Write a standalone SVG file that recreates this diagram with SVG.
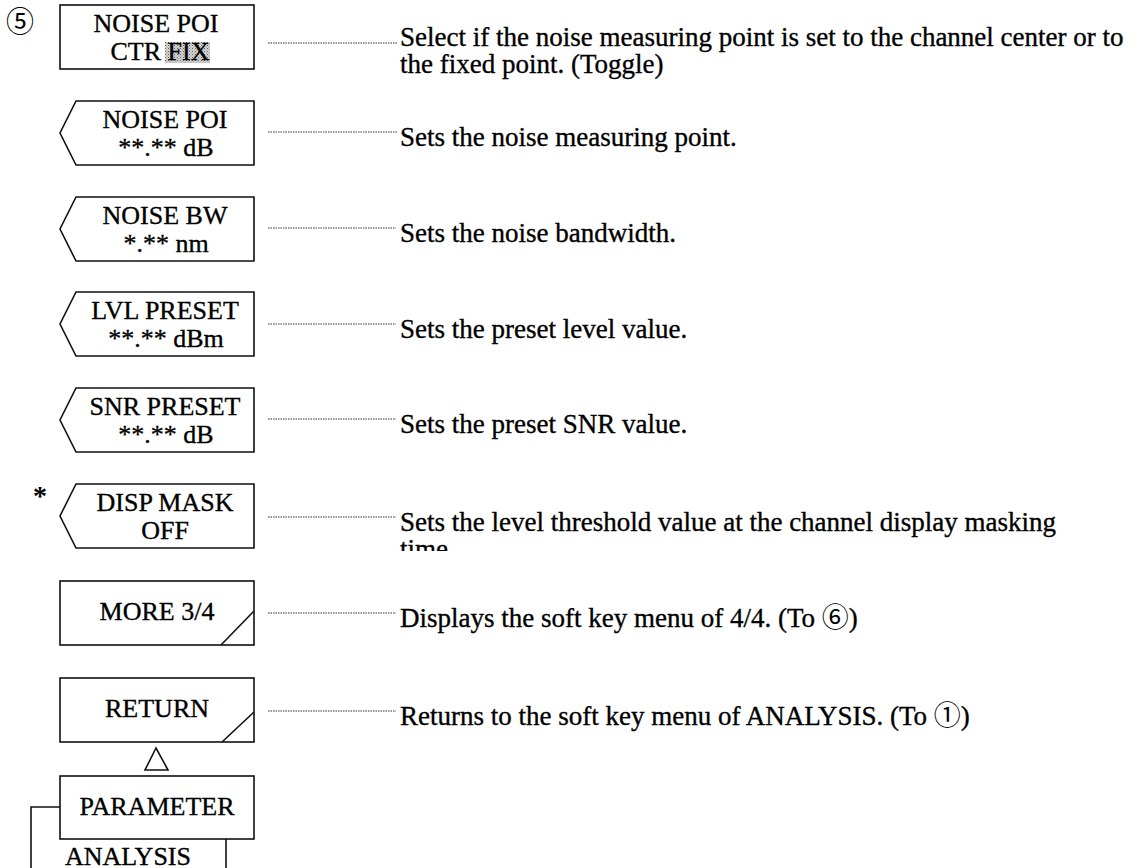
<svg xmlns="http://www.w3.org/2000/svg" width="1137" height="868" viewBox="0 0 1137 868">
<defs>
<pattern id="dots" width="3" height="3" patternUnits="userSpaceOnUse">
<rect width="3" height="3" fill="#d4d4d4"/>
<rect width="1" height="1" fill="#666"/>
<rect x="1.5" y="1.5" width="1" height="1" fill="#888"/>
</pattern>
<clipPath id="cut"><rect x="380" y="500" width="757" height="51"/></clipPath>
</defs>
<style>
.box{fill:#fff;stroke:#111;stroke-width:1.6}
.k{font-family:"Liberation Serif","Times New Roman",serif;font-size:26px;fill:#000;stroke:#000;stroke-width:0.35;text-anchor:middle}
.d{font-family:"Liberation Serif","Times New Roman",serif;font-size:27px;fill:#000;stroke:#000;stroke-width:0.35}
.c{font-family:"Noto Sans CJK JP","DejaVu Sans",sans-serif;font-size:27px;stroke-width:0}
.lead{stroke:#333;stroke-width:1.2;stroke-dasharray:1.5 1;fill:none}
.ln{stroke:#111;stroke-width:1.6;fill:none}
</style>
<rect width="1137" height="868" fill="#fff"/>
<text x="20" y="32" font-family="Noto Sans CJK JP, DejaVu Sans, sans-serif" font-size="28" text-anchor="middle">⑤</text>
<text x="40" y="505" font-family="Liberation Serif, serif" font-size="28" font-weight="bold" text-anchor="middle">*</text>

<g id="connectors">
<line class="lead" x1="268" y1="43" x2="397" y2="43"/>
<line class="lead" x1="268" y1="132" x2="397" y2="132"/>
<line class="lead" x1="268" y1="228" x2="396" y2="228"/>
<line class="lead" x1="268" y1="324" x2="396" y2="324"/>
<line class="lead" x1="268" y1="419" x2="396" y2="419"/>
<line class="lead" x1="268" y1="517" x2="396" y2="517"/>
<line class="lead" x1="268" y1="613" x2="396" y2="613"/>
<line class="lead" x1="268" y1="711" x2="396" y2="711"/>
<polygon points="156,748 145,770 168,770" fill="#fff" stroke="#111" stroke-width="1.6"/>
</g>

<g id="node-noise-poi-ctr">
<rect class="box" x="60" y="5" width="194" height="64"/>
<rect x="165" y="42" width="45" height="21" fill="url(#dots)"/>
<text class="k" x="156" y="32">NOISE POI</text>
<text class="k" x="160" y="60">CTR FIX</text>
<text class="d" x="400" y="46">Select if the noise measuring point is set to the channel center or to</text>
<text class="d" x="400" y="73">the fixed point. (Toggle)</text>
</g>

<g id="node-noise-poi">
<polygon class="box" points="76,101 254,101 254,165 76,165 60,133"/>
<text class="k" x="165" y="128">NOISE POI</text>
<text class="k" x="166" y="156">**.** dB</text>
<text class="d" x="400" y="146">Sets the noise measuring point.</text>
</g>

<g id="node-noise-bw">
<polygon class="box" points="76,197 254,197 254,261 76,261 60,229"/>
<text class="k" x="165" y="224">NOISE BW</text>
<text class="k" x="166" y="252">*.** nm</text>
<text class="d" x="400" y="242">Sets the noise bandwidth.</text>
</g>

<g id="node-lvl-preset">
<polygon class="box" points="76,292 254,292 254,356 76,356 60,324"/>
<text class="k" x="165" y="319">LVL PRESET</text>
<text class="k" x="166" y="347">**.** dBm</text>
<text class="d" x="400" y="338">Sets the preset level value.</text>
</g>

<g id="node-snr-preset">
<polygon class="box" points="76,388 254,388 254,452 76,452 60,420"/>
<text class="k" x="165" y="415">SNR PRESET</text>
<text class="k" x="166" y="443">**.** dB</text>
<text class="d" x="400" y="433">Sets the preset SNR value.</text>
</g>

<g id="node-disp-mask">
<polygon class="box" points="76,484 254,484 254,548 76,548 60,516"/>
<text class="k" x="165" y="511">DISP MASK</text>
<text class="k" x="165" y="539">OFF</text>
<text class="d" x="400" y="531">Sets the level threshold value at the channel display masking</text>
<text class="d" x="400" y="558" clip-path="url(#cut)">time</text>
</g>

<g id="node-more">
<rect class="box" x="60" y="581" width="194" height="64"/>
<line class="ln" x1="221" y1="645" x2="254" y2="611"/>
<text class="k" x="157" y="620">MORE 3/4</text>
<text class="d" x="400" y="627">Displays the soft key menu of 4/4. (To <tspan class="c">⑥</tspan>)</text>
</g>

<g id="node-return">
<rect class="box" x="60" y="678" width="194" height="64"/>
<line class="ln" x1="222" y1="742" x2="254" y2="712"/>
<text class="k" x="157" y="717">RETURN</text>
<text class="d" x="400" y="725">Returns to the soft key menu of ANALYSIS. (To  <tspan class="c">①</tspan>)</text>
</g>

<g id="node-parameter">
<rect class="box" x="60" y="776" width="194" height="63"/>
<text class="k" x="157" y="815">PARAMETER</text>
</g>

<g id="node-analysis">
<polyline class="ln" points="60,807 31,807 31,868"/>
<line class="ln" x1="226" y1="839" x2="226" y2="868"/>
<text class="k" x="128" y="865">ANALYSIS</text>
</g>
</svg>
